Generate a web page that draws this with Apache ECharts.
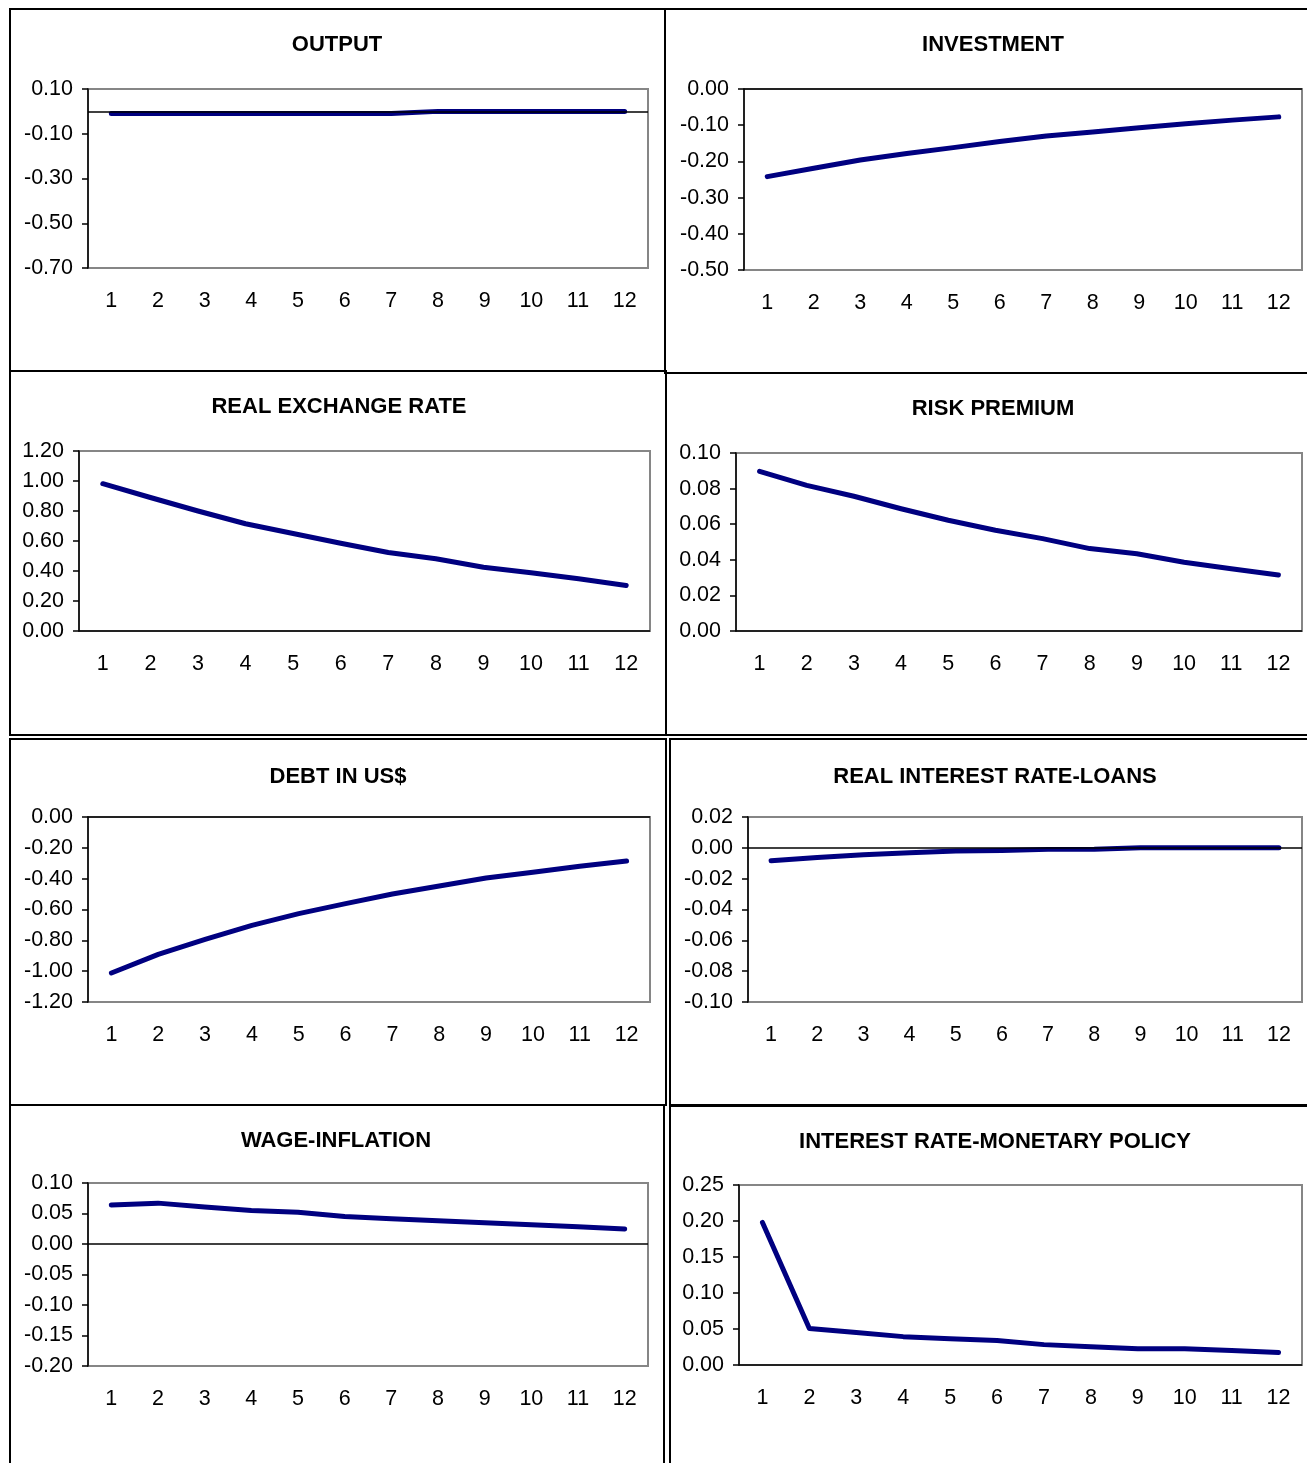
<!DOCTYPE html>
<html><head><meta charset="utf-8">
<script src="https://cdn.jsdelivr.net/npm/echarts@6/dist/echarts.min.js"></script>
<style>html,body{margin:0;padding:0;background:#fff;overflow:hidden}#c{width:1307px;height:1463px}</style>
</head><body><div id="c"></div>
<script>
// ---------- DATA ----------
const categories = ['1','2','3','4','5','6','7','8','9','10','11','12'];
const titles = ['OUTPUT','INVESTMENT','REAL EXCHANGE RATE','RISK PREMIUM','DEBT IN US$','REAL INTEREST RATE-LOANS','WAGE-INFLATION','INTEREST RATE-MONETARY POLICY'];
const outputValues = [-0.009,-0.009,-0.009,-0.009,-0.009,-0.009,-0.009,0,0,0,0,0];
const investmentValues = [-0.242,-0.219,-0.196,-0.178,-0.162,-0.145,-0.130,-0.119,-0.107,-0.096,-0.086,-0.077];
const realExchangeValues = [0.982,0.890,0.800,0.715,0.650,0.585,0.523,0.482,0.425,0.388,0.348,0.304];
const riskPremiumValues = [0.0897,0.0818,0.0757,0.0687,0.0622,0.0566,0.0519,0.0463,0.0434,0.0386,0.0350,0.0315];
const debtValues = [-1.012,-0.891,-0.794,-0.703,-0.627,-0.562,-0.499,-0.448,-0.396,-0.359,-0.320,-0.285];
const realInterestValues = [-0.0084,-0.0063,-0.0045,-0.0032,-0.0020,-0.0017,-0.0010,-0.0009,0,0,0,0];
const wageInflationValues = [0.0638,0.0670,0.0605,0.0550,0.0520,0.0450,0.0415,0.0380,0.0350,0.0316,0.0284,0.0245];
const policyRateValues = [0.198,0.0506,0.0450,0.0394,0.0366,0.0339,0.0283,0.0255,0.0227,0.0227,0.0200,0.0172];
const yMins = [-0.7,-0.5,0,0,-1.2,-0.1,-0.2,0];
const yMaxs = [0.1,0,1.2,0.1,0,0.02,0.1,0.25];
const yIntervals = [0.2,0.1,0.2,0.02,0.2,0.02,0.05,0.05];
const outputTicks = [-0.7,-0.5,-0.3,-0.1,0.1];

const seriesValues = [outputValues,investmentValues,realExchangeValues,riskPremiumValues,debtValues,realInterestValues,wageInflationValues,policyRateValues];

// ---------- LAYOUT ----------
const grids = [
  {left:88, top:89, width:560, height:179},
  {left:744, top:89, width:558, height:181},
  {left:79, top:451, width:571, height:180},
  {left:736, top:453, width:566, height:178},
  {left:88, top:817, width:562, height:185},
  {left:748, top:817, width:554, height:185},
  {left:88, top:1183, width:560, height:183},
  {left:739, top:1185, width:563, height:180}
];
const titlePos = [[337,45],[993,45],[339,407],[993,409],[338,777],[995,777],[336,1141],[995,1142]];
const panels = [
  [10,9,655,362],[665,9,700,364],
  [10,371,656,364],[666,373,700,362],
  [10,739,656,366],[670,739,700,366],
  [10,1105,654,400],[670,1106,700,400]
];
const FONT = '"Liberation Sans", Arial, sans-serif';

const option = {
  animation:false,
  backgroundColor:'#fff',
  grid: grids.map(g => Object.assign({show:true, borderColor:'#868686', borderWidth:2, backgroundColor:'transparent', containLabel:false}, g)),
  xAxis: grids.map((g,i) => ({
    type:'category', gridIndex:i, data:categories, boundaryGap:true,
    axisLine:{show:false}, axisTick:{show:false}, splitLine:{show:false},
    axisLabel:{color:'#000', fontSize:21.5, fontFamily:FONT, margin:22, interval:0}
  })),
  yAxis: grids.map((g,i) => {
    const ax = {
      type:'value', gridIndex:i, min:yMins[i], max:yMaxs[i], interval:yIntervals[i],
      axisLine:{show:true, onZero:false, lineStyle:{color:'#000', width:1.5}},
      axisTick:{show:true, inside:false, length:6, lineStyle:{color:'#000', width:1.5}},
      splitLine:{show:false},
      axisLabel:{color:'#000', fontSize:21.5, fontFamily:FONT, margin:15,
        formatter: v => (Math.abs(v) < 1e-9 ? 0 : v).toFixed(2)}
    };
    if (i === 0) {
      ax.axisLabel.customValues = outputTicks;
      ax.axisTick.customValues = outputTicks;
    }
    return ax;
  }),
  series: seriesValues.map((vals,i) => ({
    type:'line', xAxisIndex:i, yAxisIndex:i, data:vals,
    showSymbol:false, symbol:'none', smooth:false,
    lineStyle:{color:'#000080', width:5, cap:'round', join:'round'},
    z:3,
    markLine:{
      silent:true, symbol:['none','none'], label:{show:false}, animation:false,
      lineStyle:{color:'#000', width:1.5, type:'solid'},
      emphasis:{disabled:true},
      data:[{yAxis:0}]
    }
  })),
  graphic: [
    ...panels.map(p => ({type:'rect', silent:true, z:10,
      shape:{x:p[0], y:p[1], width:p[2], height:p[3]},
      style:{fill:'none', stroke:'#000', lineWidth:2}})),
    ...titles.map((t,i) => ({type:'text', silent:true, z:10, x:titlePos[i][0], y:titlePos[i][1],
      style:{text:t, font:'bold 22px ' + FONT, fill:'#000', align:'center', verticalAlign:'middle'}}))
  ]
};
const chart = echarts.init(document.getElementById('c'), null, {renderer:'canvas', width:1307, height:1463});
chart.setOption(option);
</script></body></html>
